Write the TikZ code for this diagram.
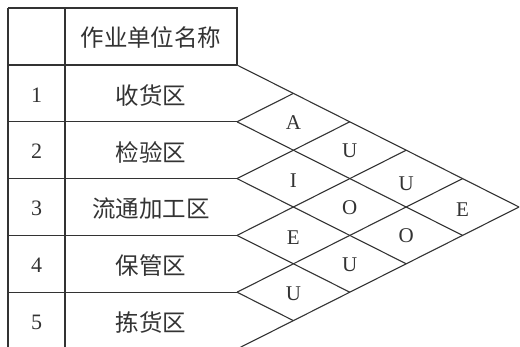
\documentclass[tikz,border=0pt]{standalone}
\usepackage{fontspec}
\setmainfont{Liberation Serif}
\newfontfamily\cjk{Noto Sans CJK SC}
\begin{document}
\begin{tikzpicture}[x=1pt,y=-1pt,
  grid/.style={draw=black!80,line width=1.1pt},
  zh/.style={font=\cjk\fontsize{23.5}{23.5}\selectfont,text=black!80,inner sep=0pt},
  num/.style={font=\fontsize{22}{22}\selectfont,text=black!80,inner sep=0pt},
  rel/.style={font=\fontsize{21}{21}\selectfont,text=black!80,inner sep=0pt}]
\useasboundingbox (0,0) rectangle (520,346);
\clip (0,0) rectangle (520,346);
\def\rh{56.8}
\def\hw{56.4}
% corners
\coordinate (TL) at (8,8);
\coordinate (TM) at (65,8);
\coordinate (TR) at (237,8);
\coordinate (BL) at (8,360);
\coordinate (BM) at (65,360);
\foreach \k in {0,...,5}{
  \coordinate (L\k) at (8,{65+\rh*\k});
  \coordinate (B\k) at (237,{65+\rh*\k});
}
\foreach \k in {0,...,4}{
  \coordinate (D\k) at ({237+(5-\k)*\hw},{65+\rh*\k+(5-\k)*\rh/2});
}
\foreach \k in {1,...,5}{
  \coordinate (U\k) at ({237+\k*\hw},{65+\k*\rh/2});
}
% table frame
\draw[grid] (TL) -- (TR) -- (B0);
\draw[grid] (TL) -- (BL);
\draw[grid] (TM) -- (BM);
\foreach \k in {0,...,5}{
  \draw[grid] (L\k) -- (B\k);
}
% triangular matrix
\foreach \k in {0,...,4}{
  \draw[grid] (B\k) -- (D\k);
}
\foreach \k in {1,...,5}{
  \draw[grid] (B\k) -- (U\k);
}
% header and rows
\node[zh] (head) at (151,37) {作业单位名称};
\node[num] (n1) at (36.5,95) {1};
\node[num] (n2) at (36.5,151) {2};
\node[num] (n3) at (36.5,208) {3};
\node[num] (n4) at (36.5,265) {4};
\node[num] (n5) at (36.5,322) {5};
\node[zh] (r1) at (151,96) {收货区};
\node[zh] (r2) at (151,152) {检验区};
\node[zh] (r3) at (151,209) {流通加工区};
\node[zh] (r4) at (151,266) {保管区};
\node[zh] (r5) at (151,323) {拣货区};
% relations: pair (i,j) at x=237+(j-i)*hw, y=65+rh*(i+j-1)/2
\node[rel] (p12) at ({237+1*\hw},{65+\rh*1+1}) {A};
\node[rel] (p23) at ({237+1*\hw},{65+\rh*2+2}) {I};
\node[rel] (p34) at ({237+1*\hw},{65+\rh*3+2}) {E};
\node[rel] (p45) at ({237+1*\hw},{65+\rh*4+2}) {U};
\node[rel] (p13) at ({237+2*\hw},{65+\rh*1.5+1}) {U};
\node[rel] (p24) at ({237+2*\hw},{65+\rh*2.5+1}) {O};
\node[rel] (p35) at ({237+2*\hw},{65+\rh*3.5+1}) {U};
\node[rel] (p14) at ({237+3*\hw},{65+\rh*2+5}) {U};
\node[rel] (p25) at ({237+3*\hw},{65+\rh*3}) {O};
\node[rel] (p15) at ({237+4*\hw},{65+\rh*2.5+3}) {E};
\end{tikzpicture}
\end{document}
